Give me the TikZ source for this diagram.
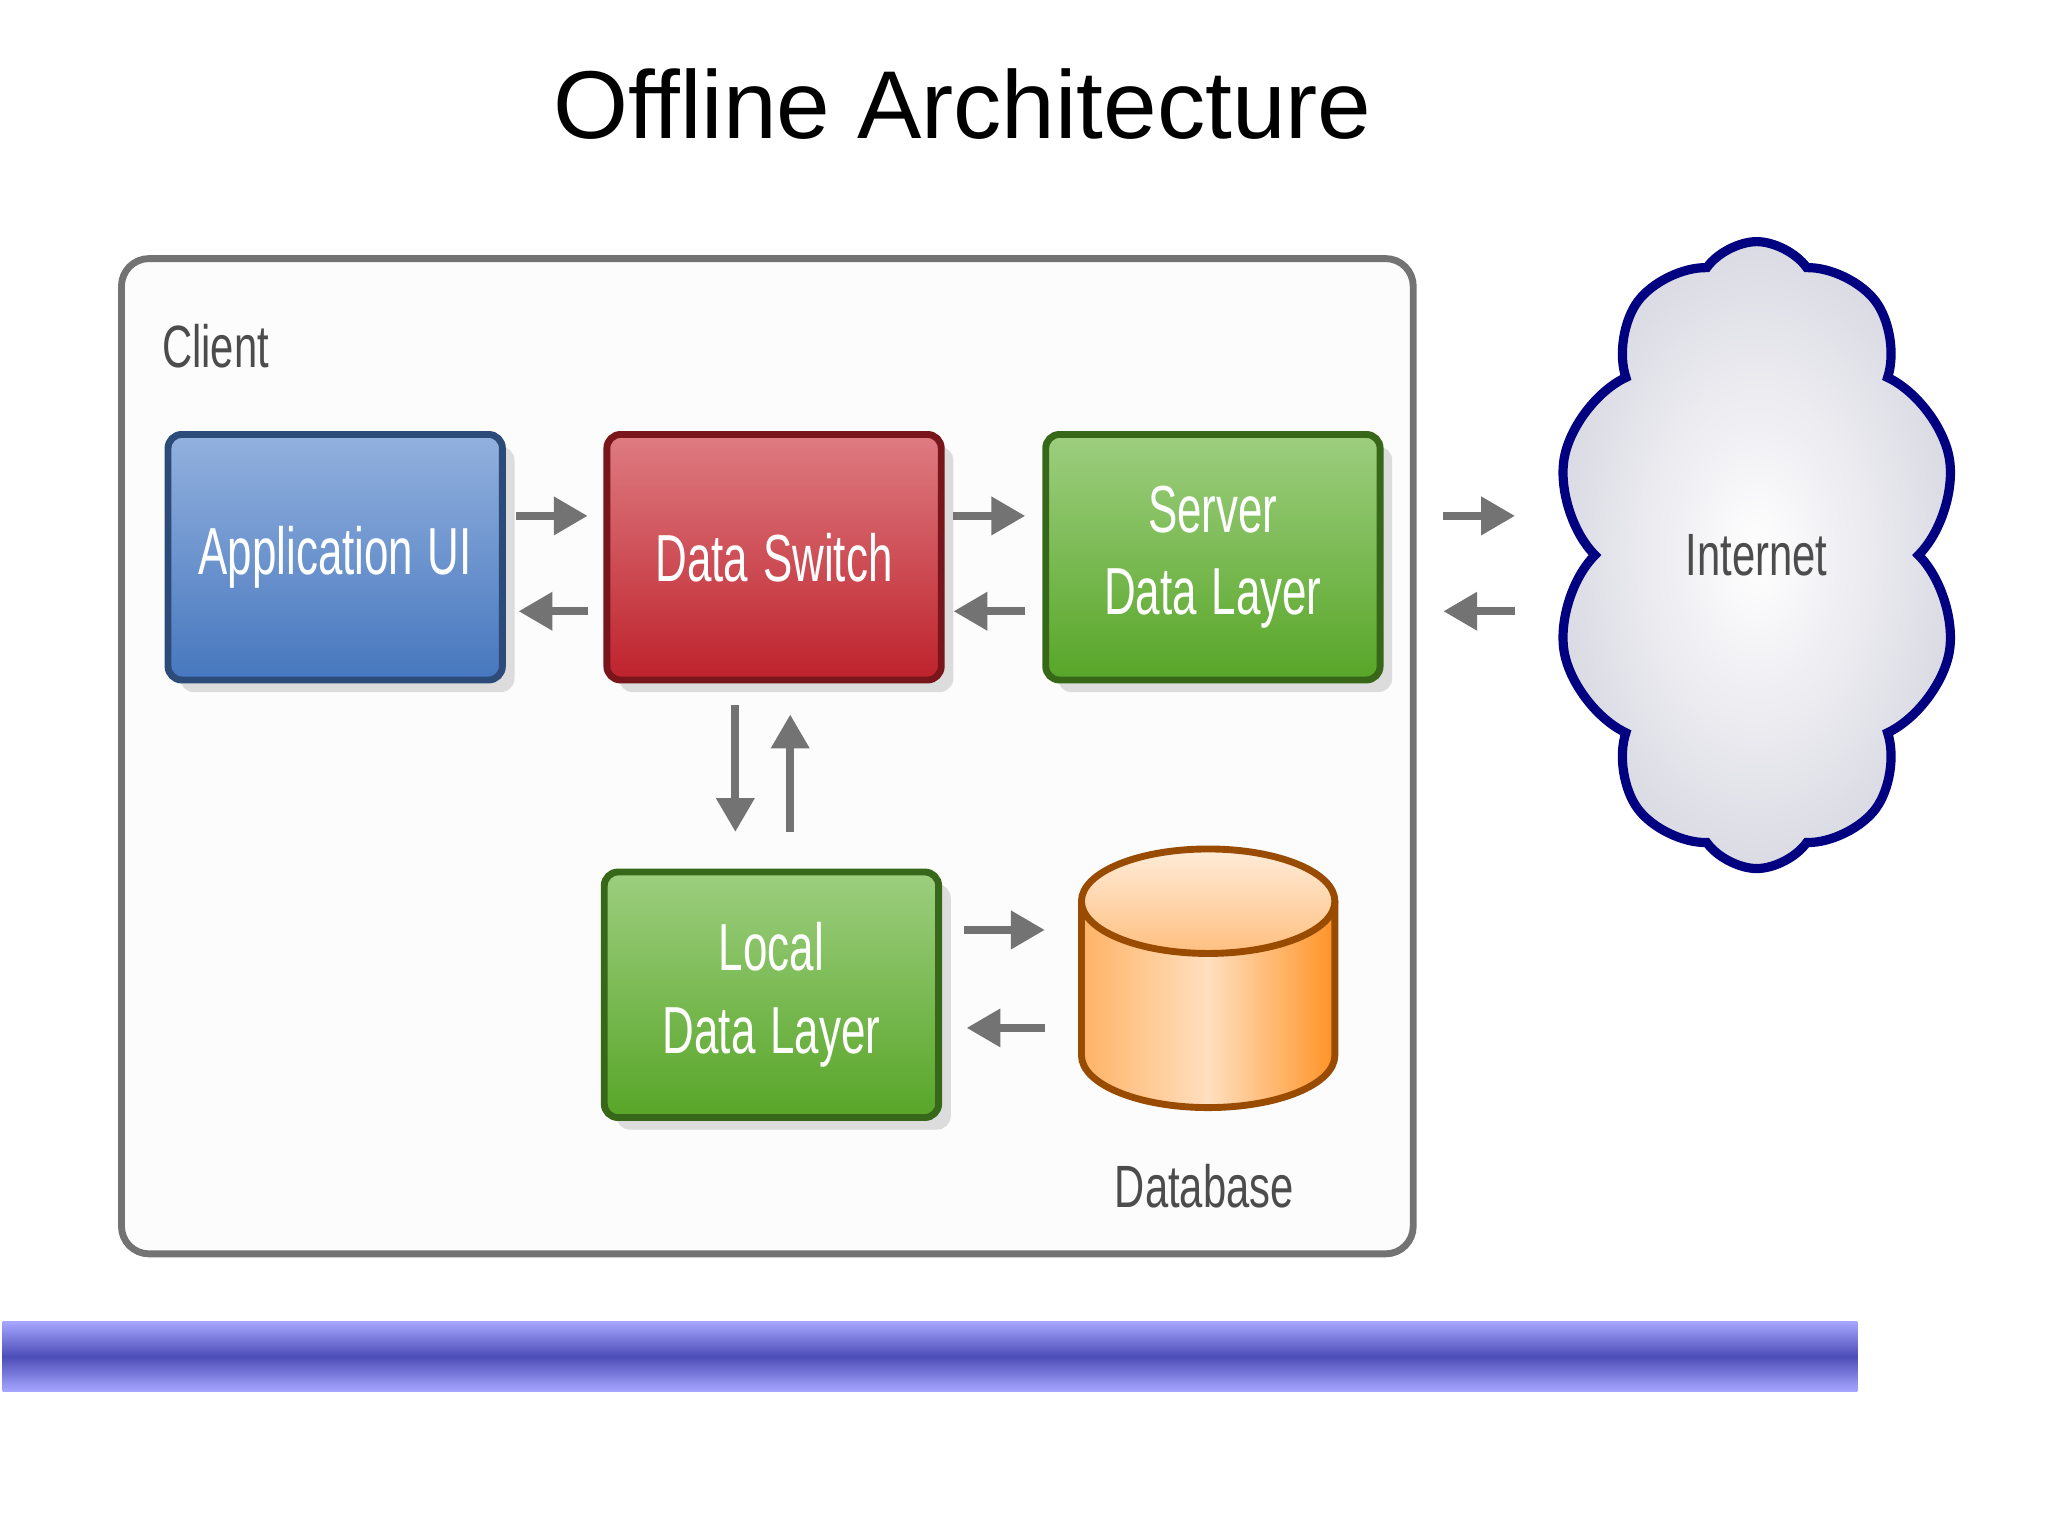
\documentclass[tikz,border=0pt]{standalone}
\usepackage{fontspec}
\setmainfont{Liberation Sans}
\usetikzlibrary{shapes.symbols,shapes.geometric,arrows.meta,shadows}
\begin{document}
\begin{tikzpicture}[x=0.1mm,y=-0.1mm,
  blk/.style={draw=#1!60!black,line width=1.5pt,rounded corners=3pt,minimum width=25.6mm,minimum height=18.8mm,text width=22mm,inner sep=1.5mm,top color=#1!60,bottom color=#1!95!black,anchor=north west,text=white,font=\fontsize{14.5}{18}\selectfont,align=center,drop shadow={opacity=0.25}},
  lbl/.style={font=\fontsize{13}{15}\selectfont,text=black!70},
  ar/.style={-{Triangle[length=2.6mm,width=2.8mm]},line width=1.8pt,draw=black!55}]
\useasboundingbox (0,0) rectangle (1568,1175);
\node (title) at (737,80) {\fontsize{21}{24}\selectfont Offline Architecture};
\draw[black!55,line width=1.5pt,rounded corners=6pt,fill=black!1] (93,198) rectangle (1082,960);
\node[lbl] (cl) at (165,265) {\scalebox{0.7}[1]{Client}};
\definecolor{bl}{HTML}{4A7DC8}\definecolor{rd}{HTML}{C8242E}\definecolor{gr}{HTML}{5CAE2A}
\node[blk=bl] (ui) at (126,330) {\scalebox{0.66}[1]{Application UI}};
\node[blk=rd] (ds) at (462,330) {\scalebox{0.66}[1]{Data Switch}};
\node[blk=gr] (sdl) at (798,330) {\scalebox{0.66}[1]{Server}\\\scalebox{0.66}[1]{Data Layer}};
\node[blk=gr] (ldl) at (460,665) {\scalebox{0.66}[1]{Local}\\\scalebox{0.66}[1]{Data Layer}};
\coordinate (db) at (925,749);
\fill[left color=orange!60, right color=orange!85, middle color=orange!25] (828,690) -- (828,808) arc[start angle=180,end angle=360,x radius=97,y radius=-40] -- (1022,690) -- cycle;
\draw[orange!60!black,line width=1.5pt] (828,690) -- (828,808) arc[start angle=180,end angle=360,x radius=97,y radius=-40] -- (1022,690);
\draw[orange!60!black,line width=1.5pt,top color=orange!15,bottom color=orange!50] (925,690) ellipse[x radius=97,y radius=40];
\node[lbl] (dbl) at (922,908) {\scalebox{0.7}[1]{Database}};
\node[cloud,cloud puffs=10,cloud puff arc=110,aspect=0.65,minimum width=31mm,minimum height=48mm,draw=blue!50!black,line width=2pt,inner color=white,outer color=blue!15!gray!25] (net) at (1345,425) {};
\node[lbl] at (net) {\scalebox{0.7}[1]{Internet}};
\foreach \n/\x/\y in {a1/395/395,a2/450/395,b1/450/468,b2/397/468,c1/730/395,c2/785/395,d1/785/468,d2/730/468,e1/1105/395,e2/1160/395,f1/1160/468,f2/1105/468,g1/563/540,g2/563/637,h1/605/637,h2/605/547,i1/738/712,i2/800/712,j1/800/787,j2/740/787}
  \coordinate (\n) at (\x,\y);
\foreach \p in {a,b,c,d,e,f,g,h,i,j} \draw[ar] (\p1) -- (\p2);
\shade[top color=blue!35,bottom color=blue!35,middle color=blue!60!black!70] (2,1012) rectangle (1422,1065);
\end{tikzpicture}
\end{document}
